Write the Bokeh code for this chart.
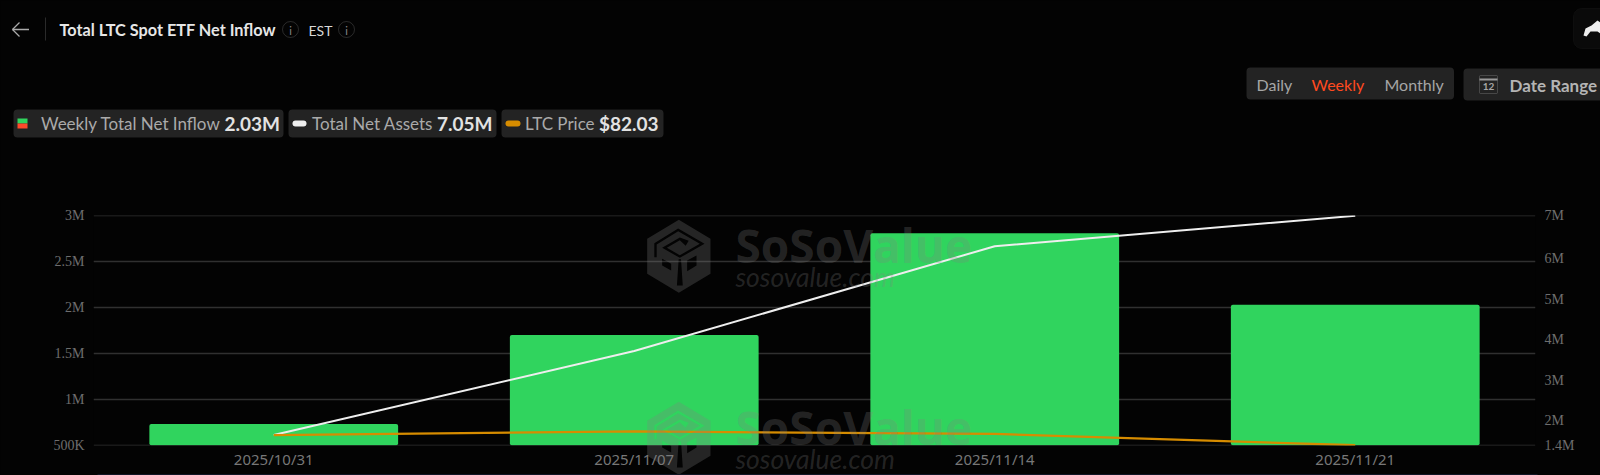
from bokeh.plotting import figure
from bokeh.layouts import column
from bokeh.embed import file_html
from bokeh.resources import INLINE
from bokeh.models import (FactorRange, Range1d, LinearAxis, FixedTicker, Label, BoxAnnotation,
                          PolyAnnotation)

dates = ["2025/10/31", "2025/11/07", "2025/11/14", "2025/11/21"]
net_inflow = [730000, 1700000, 2810000, 2030000]
net_assets = [1650000, 3720000, 6300000, 7050000]
ltc_price = [96.0, 101.0, 97.5, 82.03]

left_ticks = [500000, 1000000, 1500000, 2000000, 2500000, 3000000]
left_labels = ["500K", "1M", "1.5M", "2M", "2.5M", "3M"]
right_ticks = [1400000, 2000000, 3000000, 4000000, 5000000, 6000000, 7050000]
right_labels = ["1.4M", "2M", "3M", "4M", "5M", "6M", "7M"]

W, H = 1600, 475
BG = "#030303"
PILL = "#232323"
GREEN = "#30D45E"
ORANGE = "#D68C00"
LINE_WHITE = "#EEEEEE"
GRID = "#303030"
WM = "#808080"
FRAME = dict(left=93, right=1535, top=215, bottom=445)

p = figure(width=W, height=H, output_backend="svg", toolbar_location=None,
           x_range=FactorRange(factors=dates, range_padding=0, factor_padding=0),
           y_range=Range1d(left_ticks[0] - 3000, left_ticks[-1] + 3000),
           background_fill_color=BG, border_fill_color=BG,
           min_border_left=FRAME["left"], min_border_right=W - FRAME["right"],
           min_border_top=FRAME["top"], min_border_bottom=H - FRAME["bottom"])
p.outline_line_color = None
p.extra_y_ranges = {"assets": Range1d(right_ticks[0] - 7000, right_ticks[-1] + 7000),
                    "price": Range1d(81.6, 398)}

p.xgrid.grid_line_color = None
p.ygrid.grid_line_color = GRID
p.ygrid.grid_line_width = 1.3
p.ygrid.ticker = FixedTicker(ticks=left_ticks)

ax_b = p.xaxis[0]
ax_b.axis_line_color = None
ax_b.major_tick_line_color = None
ax_b.major_tick_out = 0
ax_b.major_tick_in = 0
ax_b.major_label_text_color = "#777777"
ax_b.major_label_text_font = "Noto Sans"
ax_b.major_label_text_font_size = "15px"
ax_b.major_label_standoff = 3

def style_y(ax, ticks, labels):
    ax.ticker = FixedTicker(ticks=ticks)
    ax.major_label_overrides = dict(zip(ticks, labels))
    ax.axis_line_color = None
    ax.major_tick_line_color = None
    ax.major_tick_out = 0
    ax.major_tick_in = 0
    ax.minor_tick_line_color = None
    ax.minor_tick_out = 0
    ax.major_label_text_color = "#6E6E6E"
    ax.major_label_text_font = "Liberation Serif"
    ax.major_label_text_font_size = "14px"
    ax.major_label_standoff = 9

style_y(p.yaxis[0], left_ticks, left_labels)
ax_r = LinearAxis(y_range_name="assets")
style_y(ax_r, right_ticks, right_labels)
p.add_layout(ax_r, "right")

p.vbar(x=dates, top=net_inflow, bottom=left_ticks[0], width=0.69, fill_color=GREEN,
       line_color=None, border_radius=2)
p.line(x=dates, y=net_assets, y_range_name="assets", line_color=LINE_WHITE, line_width=2)
p.line(x=dates, y=ltc_price, y_range_name="price", line_color=ORANGE, line_width=2.2)

# ---- transparent overlay holding the page chrome and the watermarks, in page pixels
o = figure(width=W, height=H, output_backend="svg", toolbar_location=None,
           x_range=Range1d(0, W), y_range=Range1d(H, 0),
           x_axis_location=None, y_axis_location=None,
           background_fill_color=None, border_fill_color=None,
           min_border_left=0, min_border_right=0, min_border_top=0, min_border_bottom=0)
o.outline_line_color = None
o.grid.visible = False

def text(x, y, s, color="#AAAAAA", size=16, font="Lato", style="normal", align="left", alpha=1.0):
    o.add_layout(Label(x=x, y=y, x_units="canvas", y_units="canvas", text=s, text_color=color,
                       text_font=font, text_font_size=f"{size}px", text_font_style=style,
                       text_align=align, text_baseline="middle", text_alpha=alpha))

def box(l, t, r, b, fill=PILL, line=None, radius=4, width=1.0):
    o.add_layout(BoxAnnotation(left=l, right=r, top=t, bottom=b,
                               left_units="canvas", right_units="canvas", top_units="canvas",
                               bottom_units="canvas", fill_color=fill, fill_alpha=1.0 if fill else 0,
                               line_color=line, line_width=width, border_radius=radius))

def poly(pts, fill, alpha=1.0):
    o.add_layout(PolyAnnotation(xs=[a for a, _ in pts], ys=[b for _, b in pts],
                                xs_units="canvas", ys_units="canvas", fill_color=fill,
                                fill_alpha=alpha, line_color=None))

def seg(x1, y1, x2, y2, color, w=1.5, alpha=1.0):
    dx, dy = x2 - x1, y2 - y1
    n = (dx * dx + dy * dy) ** 0.5
    ox, oy = -dy / n * w / 2, dx / n * w / 2
    poly([(x1 + ox, y1 + oy), (x2 + ox, y2 + oy), (x2 - ox, y2 - oy), (x1 - ox, y1 - oy)], color, alpha)

def info(x, y):
    box(x - 8, y - 8, x + 8, y + 8, fill=None, line="#808080", radius=8)
    text(x, y + 0.5, "i", color="#888888", size=11, align="center")

# header
seg(12, 29, 28.5, 29, "#AAAAAA", 1.3)
seg(12, 29, 19, 22, "#AAAAAA", 1.3)
seg(12, 29, 19, 36, "#AAAAAA", 1.3)
box(44.5, 17, 45.5, 40, fill="#2A2A2A", radius=0)
text(59, 29, "Total LTC Spot ETF Net Inflow", color="#E6E6E6", size=16.25, style="bold")
info(290, 29)
text(308, 29.5, "EST", color="#D8D8D8", size=14)
info(346, 29)

# share button
box(1573, 8, 1640, 48, fill="#0A0A0A", line="#222222", radius=8)
poly([(1583, 35), (1585, 28), (1591, 25), (1597, 20), (1600, 22), (1600, 33), (1597, 31), (1590, 31), (1586, 36)], "#EEEEEE")

# period switch
box(1246, 67, 1453.5, 99)
text(1256, 84, "Daily", color="#A6A6A6")
text(1311, 84, "Weekly", color="#FF4A1F")
text(1384, 84, "Monthly", color="#A6A6A6")
box(1463, 68, 1640, 100)
box(1479, 75, 1497, 93, fill=None, line="#9A9A9A", radius=1)
box(1479, 78, 1497, 80, fill="#9A9A9A", radius=0)
text(1488, 86, "12", color="#A6A6A6", size=10, style="bold", align="center")
text(1509, 84.5, "Date Range", color="#B4B4B4", size=17, style="bold")

# legend pills
box(13, 109, 283, 137)
box(288, 109, 496, 137)
box(501, 109, 663, 137)
box(17, 118, 27, 123, fill=GREEN, radius=0)
box(17, 123, 27, 128, fill="#FF4A2A", radius=0)
text(40.5, 122.5, "Weekly Total Net Inflow", size=17)
text(224, 123, "2.03M", color="#E2E2E2", size=19, style="bold")
box(292, 120, 306, 126, fill=LINE_WHITE, radius=3)
text(311.5, 122.5, "Total Net Assets", size=17)
text(436.5, 123, "7.05M", color="#E2E2E2", size=19, style="bold")
box(505, 120, 520, 126, fill=ORANGE, radius=3)
text(524.5, 122.5, "LTC Price", size=17)
text(598.5, 123, "$82.03", color="#E2E2E2", size=19, style="bold")

# watermarks: a hexagon whose inner lines are real holes, so the bars show through them
def signed_area(pts):
    return sum(a[0] * b[1] - b[0] * a[1] for a, b in zip(pts, pts[1:] + pts[:1])) / 2

def strip(path, w):
    left, right = [], []
    for i, (x, y) in enumerate(path):
        a = path[max(i - 1, 0)]
        b = path[min(i + 1, len(path) - 1)]
        dx1, dy1 = x - a[0], y - a[1]
        dx2, dy2 = b[0] - x, b[1] - y
        n1 = (dx1 * dx1 + dy1 * dy1) ** 0.5 or 1
        n2 = (dx2 * dx2 + dy2 * dy2) ** 0.5 or 1
        nx, ny = -(dy1 / n1 + dy2 / n2), dx1 / n1 + dx2 / n2
        m = (nx * nx + ny * ny) ** 0.5
        nx, ny = nx / m, ny / m
        k = (w / 2) / max(0.4, (nx * -dy2 / n2 + ny * dx2 / n2))
        left.append((x + nx * k, y + ny * k))
        right.append((x - nx * k, y - ny * k))
    return left + right[::-1]

def with_holes(outer, holes):
    sign = 1 if signed_area(outer) > 0 else -1
    ring = outer + [outer[0]]
    for hole in holes:
        h = hole if signed_area(hole) * sign < 0 else hole[::-1]
        ring = ring + h + [h[0], outer[0]]
    return ring

def watermark(off):
    tx = lambda a: 640 + a / 3
    ty = lambda b: 210 + b / 3 + off
    hexagon = [(115, 28), (210, 85), (210, 190), (115, 247), (20, 190), (20, 85)]
    holes = [
        strip([(45, 140), (45, 100), (113, 58), (185, 100), (118, 138), (72, 112), (118, 85), (140, 98)], 7),
        strip([(118, 146), (118, 225)], 7),
        [(140, 150), (168, 135), (168, 165), (140, 182)],
        [(65, 145), (92, 160), (92, 180), (65, 165)],
    ]
    ring = with_holes(hexagon, holes)
    poly([(tx(a), ty(b)) for a, b in ring], WM, 0.27)
    text(735, 244 + off, "SoSoValue", color=WM, size=46, font="Open Sans", style="bold", alpha=0.27)
    text(735, 276 + off, "sosovalue.com", color=WM, size=26.5, font="Lato", style="italic", alpha=0.27)

watermark(0)
watermark(182)

box(97, 473.5, 1537, 475, fill="#101525", radius=0)

page = column(p, column(o, margin=(-H, 0, 0, 0)))
html = file_html(page, INLINE, "Total LTC Spot ETF Net Inflow")
html = html.replace("<head>", f"<head><style>html,body{{background:{BG};overflow:hidden}}</style>", 1)
open("out.html", "w").write(html)
